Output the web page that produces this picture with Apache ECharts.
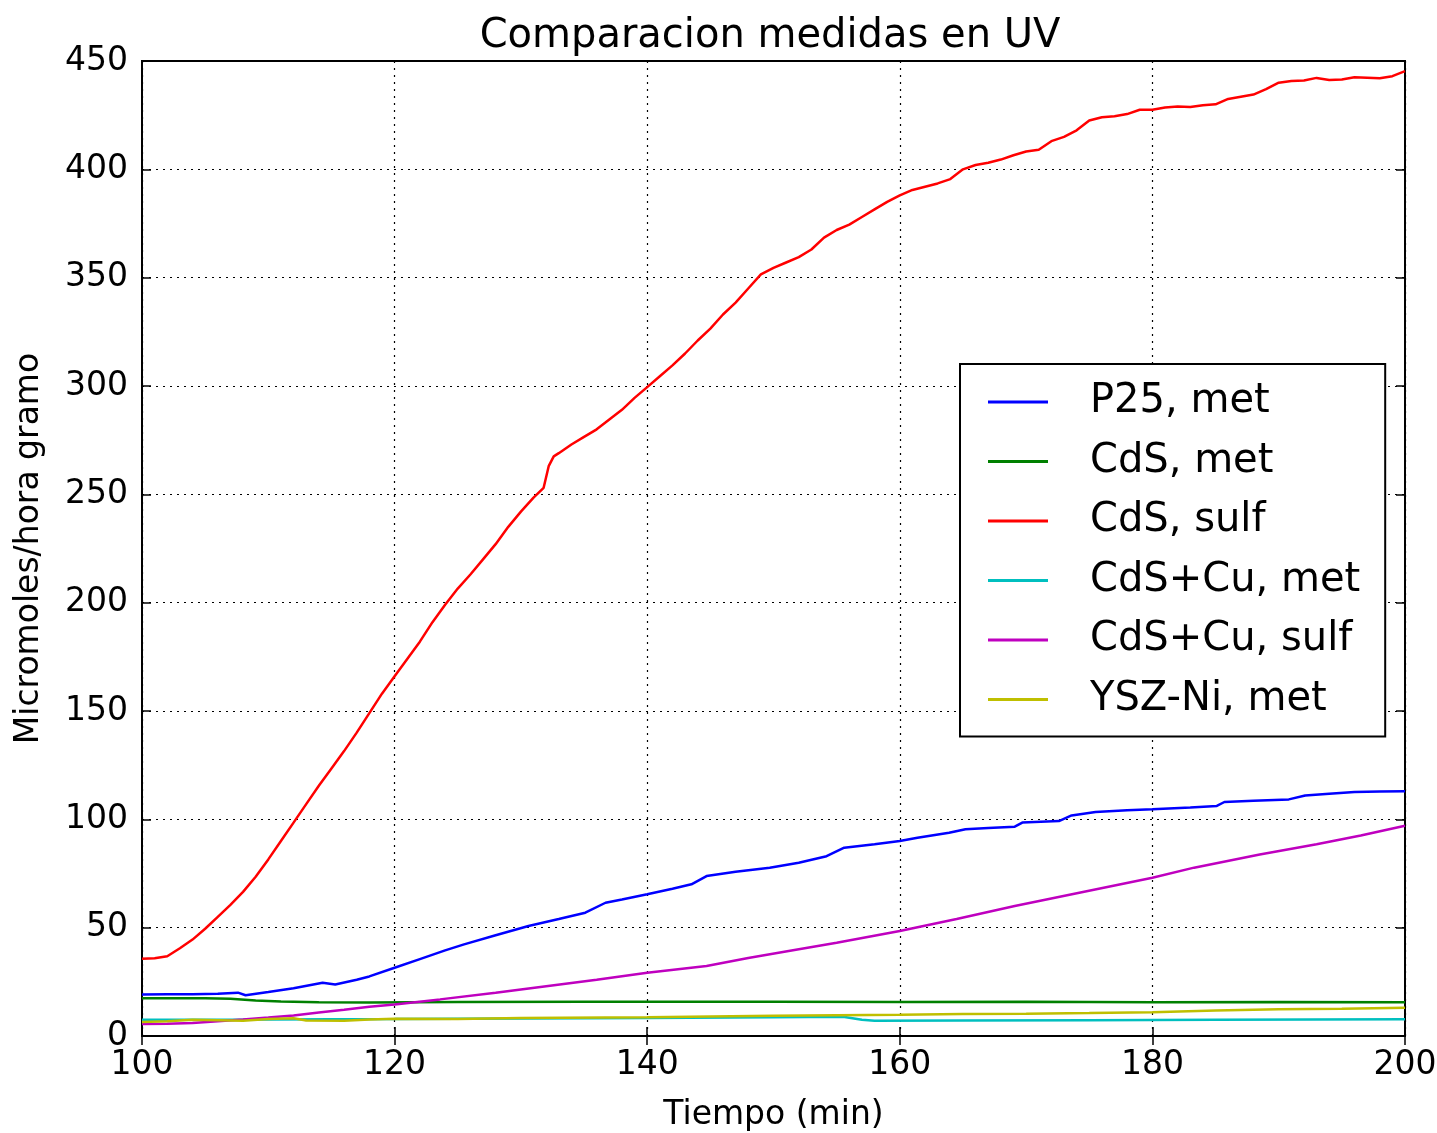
<!DOCTYPE html>
<html>
<head>
<meta charset="utf-8">
<title>Comparacion medidas en UV</title>
<script src="https://cdn.jsdelivr.net/npm/echarts@6/dist/echarts.min.js"></script>
<style>
  html, body { margin: 0; padding: 0; background: #fff; }
  #chart { width: 1437px; height: 1133px; }
</style>
</head>
<body>
<div id="chart"></div>
<script>
// Axis ticks
const xTicks = [100, 120, 140, 160, 180, 200];
const yTicks = [0, 50, 100, 150, 200, 250, 300, 350, 400, 450];

// Series names
const seriesNames = ['P25, met', 'CdS, met', 'CdS, sulf', 'CdS+Cu, met', 'CdS+Cu, sulf', 'YSZ-Ni, met'];

// P25, met
const p25MetTime = [100, 102, 104, 106, 107.6, 108.2, 110, 112, 114.3, 115.3, 117, 118, 120, 122, 124, 125.5, 128, 130.6, 133, 135.1, 136.7, 138, 140, 142, 143.5, 144.7, 147, 149.7, 152, 154.2, 155.6, 158, 160, 161.4, 163.9, 165.2, 167, 169.1, 169.7, 172.6, 173.6, 175.5, 178, 180, 183, 185.1, 185.7, 188, 190.8, 192.1, 194, 196, 198, 200];
const p25MetValues = [19.2, 19.3, 19.3, 19.5, 20, 18.8, 20.3, 22, 24.6, 23.8, 26, 27.5, 31.5, 35.5, 39.5, 42.3, 46.5, 50.8, 54, 56.9, 61.5, 63, 65.4, 68, 70, 73.8, 75.8, 77.7, 80, 83, 86.9, 88.5, 90, 91.5, 93.8, 95.4, 96, 96.6, 98.5, 99.2, 101.8, 103.4, 104.2, 104.6, 105.5, 106.2, 108, 108.6, 109.2, 111, 111.8, 112.6, 112.9, 113];

// CdS, met
const cdsMetTime = [100, 105, 107, 109, 111, 114, 118, 125, 135, 150, 160, 170, 180, 190, 200];
const cdsMetValues = [17.4, 17.4, 17.2, 16.4, 15.9, 15.6, 15.5, 15.7, 15.8, 15.8, 15.7, 15.8, 15.6, 15.7, 15.6];

// CdS, sulf
const cdsSulfTime = [100, 101, 102, 103, 104, 105, 106, 107, 108, 109, 110, 111, 112, 113, 114, 115, 116, 117, 118, 119, 120, 121, 122, 123, 124, 125, 126, 127, 128, 129, 130, 131, 131.8, 132.2, 132.6, 133, 134, 135, 136, 137, 138, 139, 140, 141, 142, 143, 144, 145, 146, 147, 148, 149, 150, 151, 152, 153, 154, 155, 156, 157, 158, 159, 160, 161, 162, 163, 164, 165, 166, 167, 168, 169, 170, 171, 172, 173, 174, 175, 176, 177, 178, 179, 180, 181, 182, 183, 184, 185, 186, 187, 188, 189, 190, 191, 192, 193, 194, 195, 196, 197, 198, 199, 200];
const cdsSulfValues = [35.6, 35.9, 36.8, 40.5, 44.5, 49.5, 55, 60.5, 66.5, 73.5, 81.5, 90, 98.5, 107, 115.5, 123.5, 131.5, 140, 149, 158, 166, 174, 182, 191, 199, 206.5, 213, 220, 227, 235, 242, 248.5, 253, 263, 267.5, 269, 273, 276.5, 280, 284.5, 289, 294.5, 299.5, 304.5, 309.5, 315, 321, 326.5, 333, 338.5, 345, 351.5, 354.5, 357, 359.5, 363, 368.5, 372, 374.5, 378, 381.5, 385, 388, 390.5, 392, 393.5, 395.5, 400, 402, 403, 404.5, 406.5, 408.2, 409, 413, 415, 418, 422.5, 424, 424.5, 425.5, 427.5, 427.5, 428.5, 429, 428.8, 429.6, 430, 432.5, 433.5, 434.5, 437, 440, 440.8, 441, 442.2, 441.2, 441.5, 442.5, 442.3, 442, 443, 445.3];

// CdS+Cu, met
const cdsCuMetTime = [100, 110, 120, 130, 140, 150, 155.5, 157, 158, 165, 175, 185, 200];
const cdsCuMetValues = [7.5, 7.6, 7.8, 8.1, 8.3, 8.6, 8.9, 7.5, 7, 7.1, 7.3, 7.5, 7.7];

// CdS+Cu, sulf
const cdsCuSulfTime = [100, 102, 104, 106, 108, 110, 112, 114, 116, 118, 120, 123.6, 128, 132, 136, 140, 144.7, 148, 151.2, 155, 160, 164.5, 169.1, 174.5, 180, 183.3, 188.5, 193, 196.5, 200];
const cdsCuSulfValues = [5.5, 5.6, 6, 6.8, 7.6, 8.5, 9.5, 10.8, 12.1, 13.5, 14.5, 16.9, 20, 23, 26, 29.2, 32.3, 36, 39.2, 43, 48.5, 54, 60, 66.5, 73, 77.7, 83.8, 88.5, 92.5, 97];

// YSZ-Ni, met
const yszNiMetTime = [100, 102, 104, 106, 108, 110, 112, 113, 116, 118, 120, 125, 130, 140, 145, 150, 155, 160, 165, 170, 175, 180, 185, 190, 195, 200];
const yszNiMetValues = [6.5, 6.8, 7.5, 7.3, 7, 7.8, 8.2, 7.2, 7, 7.6, 8, 7.8, 8.3, 8.6, 9, 9.4, 9.6, 9.8, 10.2, 10.3, 10.6, 11, 11.8, 12.4, 12.6, 13];

const seriesColors = ['#0000ff', '#008000', '#ff0000', '#00bfbf', '#bf00bf', '#bfbf00'];

const pairs = (ts, vs) => ts.map((t, i) => [t, vs[i]]);
const seriesData = [
  pairs(p25MetTime, p25MetValues),
  pairs(cdsMetTime, cdsMetValues),
  pairs(cdsSulfTime, cdsSulfValues),
  pairs(cdsCuMetTime, cdsCuMetValues),
  pairs(cdsCuSulfTime, cdsCuSulfValues),
  pairs(yszNiMetTime, yszNiMetValues)
];

const FONT = 'DejaVu Sans';
const chart = echarts.init(document.getElementById('chart'), null, { renderer: 'canvas' });

const gridLine = { show: true, lineStyle: { color: '#000', width: 1.2, type: [2, 5] } };
const tickStyle = { show: true, inside: true, length: 9, lineStyle: { color: '#000', width: 1.5 } };

chart.setOption({
  backgroundColor: '#fff',
  animation: false,
  title: {
    text: 'Comparacion medidas en UV',
    left: 765, textAlign: 'center', top: 12,
    textStyle: { fontFamily: FONT, fontSize: 40, fontWeight: 'normal', color: '#000' }
  },
  grid: {
    left: 142, right: 32, top: 61, bottom: 97,
    outerBoundsMode: 'none',
    containLabel: false,
    show: true, borderColor: '#000', borderWidth: 2, backgroundColor: '#fff'
  },
  legend: {
    orient: 'vertical',
    left: 960, top: 364,
    backgroundColor: '#fff',
    borderColor: '#000', borderWidth: 2, borderRadius: 0,
    padding: [18, 25, 17, 28],
    itemGap: 19.5,
    itemWidth: 60, itemHeight: 3,
    icon: 'rect',
    textStyle: { fontFamily: FONT, fontSize: 40, color: '#000', padding: [0, 0, 0, 37] },
    data: seriesNames
  },
  xAxis: [
    {
      type: 'value', min: xTicks[0], max: xTicks[xTicks.length - 1], interval: 20,
      name: 'Tiempo (min)', nameLocation: 'middle', nameGap: 63,
      nameTextStyle: { fontFamily: FONT, fontSize: 33, color: '#000' },
      axisLine: { show: true, lineStyle: { color: '#000', width: 2 } },
      axisTick: tickStyle,
      axisLabel: { fontFamily: FONT, fontSize: 33, color: '#000', margin: 13 },
      splitLine: gridLine
    },
    {
      type: 'value', position: 'top', min: xTicks[0], max: xTicks[xTicks.length - 1], interval: 20,
      axisLine: { show: true, lineStyle: { color: '#000', width: 2 } },
      axisTick: tickStyle, axisLabel: { show: false }, splitLine: { show: false }
    }
  ],
  yAxis: [
    {
      type: 'value', min: yTicks[0], max: yTicks[yTicks.length - 1], interval: 50,
      name: 'Micromoles/hora gramo', nameLocation: 'middle', nameGap: 96,
      nameTextStyle: { fontFamily: FONT, fontSize: 33, color: '#000' },
      axisLine: { show: true, lineStyle: { color: '#000', width: 2 } },
      axisTick: tickStyle,
      axisLabel: { fontFamily: FONT, fontSize: 33, color: '#000', margin: 14 },
      splitLine: gridLine
    },
    {
      type: 'value', position: 'right', min: yTicks[0], max: yTicks[yTicks.length - 1], interval: 50,
      axisLine: { show: true, lineStyle: { color: '#000', width: 2 } },
      axisTick: tickStyle, axisLabel: { show: false }, splitLine: { show: false }
    }
  ],
  series: seriesNames.map((name, i) => ({
    name,
    type: 'line',
    xAxisIndex: 0, yAxisIndex: 0,
    data: seriesData[i],
    showSymbol: false,
    symbol: 'none',
    color: seriesColors[i],
    lineStyle: { color: seriesColors[i], width: 2.5 },
    clip: true,
    z: 2 + i
  }))
});
</script>
</body>
</html>
